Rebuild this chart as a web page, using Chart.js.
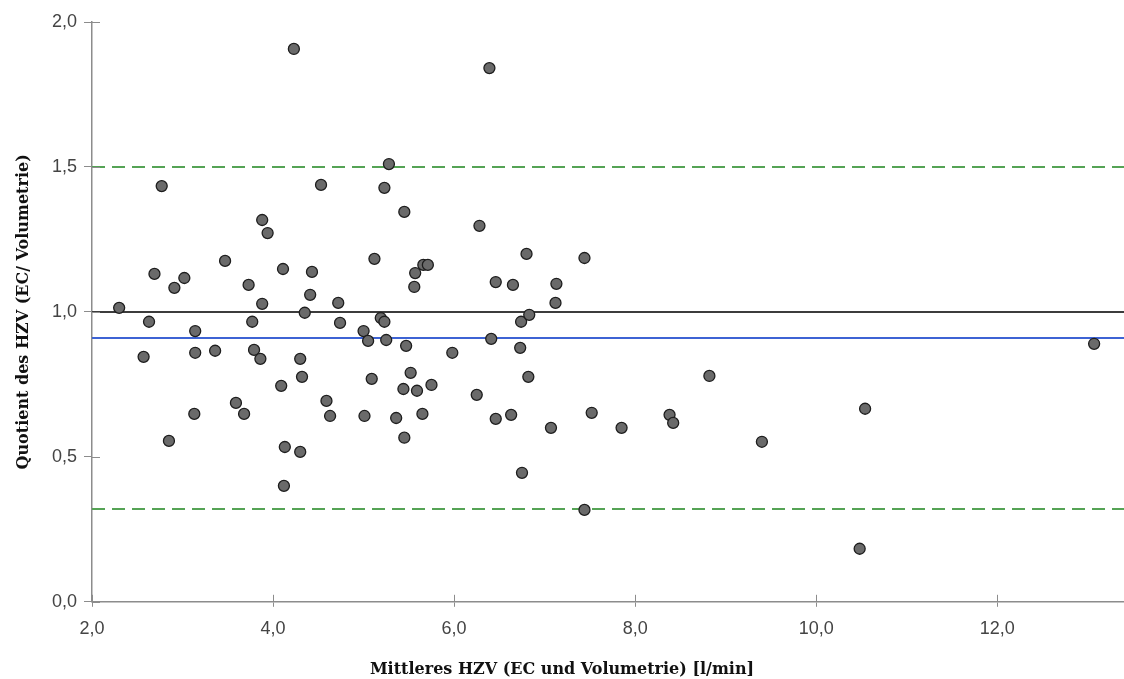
<!DOCTYPE html>
<html>
<head>
<meta charset="utf-8">
<script src="https://cdn.jsdelivr.net/npm/chart.js@4/dist/chart.umd.min.js"></script>
<style>
	body { margin: 0; background: #fff; }
	#wrap { width: 1124px; height: 679px; }
</style>
</head>
<body>
<div id="wrap"><canvas id="chart"></canvas></div>
<script>
// Mittleres HZV [l/min]
const meanHzv = [
	2.30, 2.63, 2.57, 2.69, 2.77, 2.91, 3.02, 2.85, 3.14, 3.14,
	3.36, 3.13, 3.47, 3.59, 3.68, 3.73, 3.77, 3.79, 3.86, 3.88,
	3.94, 3.88, 4.09, 4.11, 4.13, 4.12, 4.23, 4.30, 4.32, 4.30,
	4.35, 4.41, 4.43, 4.53, 4.59, 4.63, 4.72, 4.74, 5.00, 5.01,
	5.05, 5.09, 5.12, 5.19, 5.23, 5.23, 5.25, 5.28, 5.36, 5.44,
	5.45, 5.45, 5.47, 5.52, 5.56, 5.57, 5.59, 5.65, 5.66, 5.71,
	5.75, 5.98, 6.25, 6.28, 6.39, 6.41, 6.46, 6.46, 6.63, 6.65,
	6.73, 6.74, 6.75, 6.80, 6.82, 6.83, 7.07, 7.12, 7.13, 7.44,
	7.44, 7.52, 7.85, 8.38, 8.42, 8.82, 9.40, 10.48, 10.54, 13.07
];
// Quotient EC / Volumetrie
const ratio = [
	1.014, 0.966, 0.845, 1.131, 1.434, 1.083, 1.117, 0.555, 0.859, 0.934,
	0.866, 0.648, 1.176, 0.686, 0.648, 1.093, 0.966, 0.869, 0.838, 1.317,
	1.272, 1.028, 0.745, 1.148, 0.534, 0.400, 1.907, 0.838, 0.776, 0.517,
	0.997, 1.059, 1.138, 1.438, 0.693, 0.641, 1.031, 0.962, 0.934, 0.641,
	0.900, 0.769, 1.183, 0.979, 0.966, 1.428, 0.903, 1.510, 0.634, 0.734,
	0.566, 1.345, 0.883, 0.790, 1.086, 1.134, 0.728, 0.648, 1.162, 1.162,
	0.748, 0.859, 0.714, 1.297, 1.841, 0.907, 1.103, 0.631, 0.645, 1.093,
	0.876, 0.966, 0.445, 1.200, 0.776, 0.990, 0.600, 1.031, 1.097, 1.186,
	0.317, 0.652, 0.600, 0.645, 0.617, 0.779, 0.552, 0.183, 0.666, 0.890
];

const identityLine = 1.0;
const meanRatio = 0.91;
const upperLimit = 1.5;
const lowerLimit = 0.32;

const xTicks = [2, 4, 6, 8, 10, 12];
const yTicks = [0, 0.5, 1, 1.5, 2];
const xMin = 2, xMax = 13.4;
const yMin = 0, yMax = 2;

const points = meanHzv.map((x, i) => ({x: x, y: ratio[i]}));

function hLine(y) {
	return [{x: xMin, y: y}, {x: xMax, y: y}];
}

function fmt(v) {
	return v.toFixed(1).replace('.', ',');
}

const titleFont = { family: 'DejaVu Serif', size: 16, weight: 'bold' };
const tickFont = { family: 'Liberation Sans', size: 18 };

// Teilstriche, die über die Achse hinaus nach innen reichen
const innerTicks = {
	id: 'innerTicks',
	afterDatasetsDraw(chart) {
		const ctx = chart.ctx;
		const xs = chart.scales.x, ys = chart.scales.y;
		ctx.save();
		ctx.strokeStyle = '#8c8c8c';
		ctx.lineWidth = 1;
		ctx.beginPath();
		xTicks.forEach(v => {
			const px = Math.round(xs.getPixelForValue(v)) + 0.5;
			ctx.moveTo(px, xs.top);
			ctx.lineTo(px, xs.top - 7);
		});
		yTicks.forEach(v => {
			const py = Math.round(ys.getPixelForValue(v)) + 0.5;
			ctx.moveTo(ys.right, py);
			ctx.lineTo(ys.right + 8, py);
		});
		ctx.stroke();
		ctx.restore();
	}
};

const config = {
	type: 'scatter',
	data: {
		datasets: [
			{
				label: 'Quotient',
				data: points,
				order: 0,
				pointRadius: 5.5,
				pointHoverRadius: 5.5,
				backgroundColor: '#6a6a6a',
				borderColor: '#1e1e1e',
				borderWidth: 1.3,
			},
			{
				type: 'line',
				label: 'Identität',
				data: hLine(identityLine),
				order: 1,
				borderColor: '#3c3c3c',
				borderWidth: 2,
				pointRadius: 0,
			},
			{
				type: 'line',
				label: 'Mittelwert',
				data: hLine(meanRatio),
				order: 1,
				borderColor: '#3d63d4',
				borderWidth: 2,
				pointRadius: 0,
			},
			{
				type: 'line',
				label: 'Obere Grenze',
				data: hLine(upperLimit),
				order: 1,
				borderColor: '#55a355',
				borderWidth: 2,
				borderDash: [13, 7],
				pointRadius: 0,
			},
			{
				type: 'line',
				label: 'Untere Grenze',
				data: hLine(lowerLimit),
				order: 1,
				borderColor: '#55a355',
				borderWidth: 2,
				borderDash: [13, 7],
				pointRadius: 0,
			},
		]
	},
	options: {
		responsive: true,
		maintainAspectRatio: false,
		animation: false,
		layout: {
			autoPadding: false,
			padding: { top: 22, right: 0, left: 0, bottom: 0 }
		},
		plugins: {
			legend: { display: false },
			tooltip: { enabled: false },
			// x-Achsentitel über die ganze Breite zentriert
			title: {
				display: true,
				position: 'bottom',
				text: 'Mittleres HZV (EC und Volumetrie) [l/min]',
				color: '#111',
				font: titleFont,
				padding: { top: 1, bottom: 0 },
			},
		},
		scales: {
			x: {
				type: 'linear',
				min: xMin,
				max: xMax,
				afterFit: (scale) => {
					scale.height = 57;
					scale.paddingLeft = 0;
					scale.paddingRight = 0;
				},
				afterBuildTicks: (scale) => { scale.ticks = xTicks.map(v => ({value: v})); },
				border: { color: '#8c8c8c', width: 1.5 },
				grid: {
					drawOnChartArea: false,
					color: '#8c8c8c',
					tickLength: 5,
				},
				ticks: {
					color: '#444',
					padding: 11,
					maxRotation: 0,
					font: tickFont,
					callback: (v) => fmt(v),
				},
			},
			y: {
				min: yMin,
				max: yMax,
				afterFit: (scale) => {
					scale.width = 92;
					scale.paddingTop = 0;
					scale.paddingBottom = 0;
				},
				afterBuildTicks: (scale) => { scale.ticks = yTicks.map(v => ({value: v})); },
				border: { color: '#8c8c8c', width: 1.5 },
				grid: {
					drawOnChartArea: false,
					color: '#8c8c8c',
					tickLength: 8,
				},
				ticks: {
					color: '#444',
					padding: 7,
					font: tickFont,
					callback: (v) => fmt(v),
				},
				title: {
					display: true,
					text: 'Quotient des HZV (EC/ Volumetrie)',
					color: '#111',
					font: titleFont,
					padding: { top: 14, bottom: 0 },
				},
			}
		}
	},
	plugins: [innerTicks]
};

const ctx = document.getElementById('chart').getContext('2d');
const myChart = new Chart(ctx, config);
</script>
</body>
</html>
